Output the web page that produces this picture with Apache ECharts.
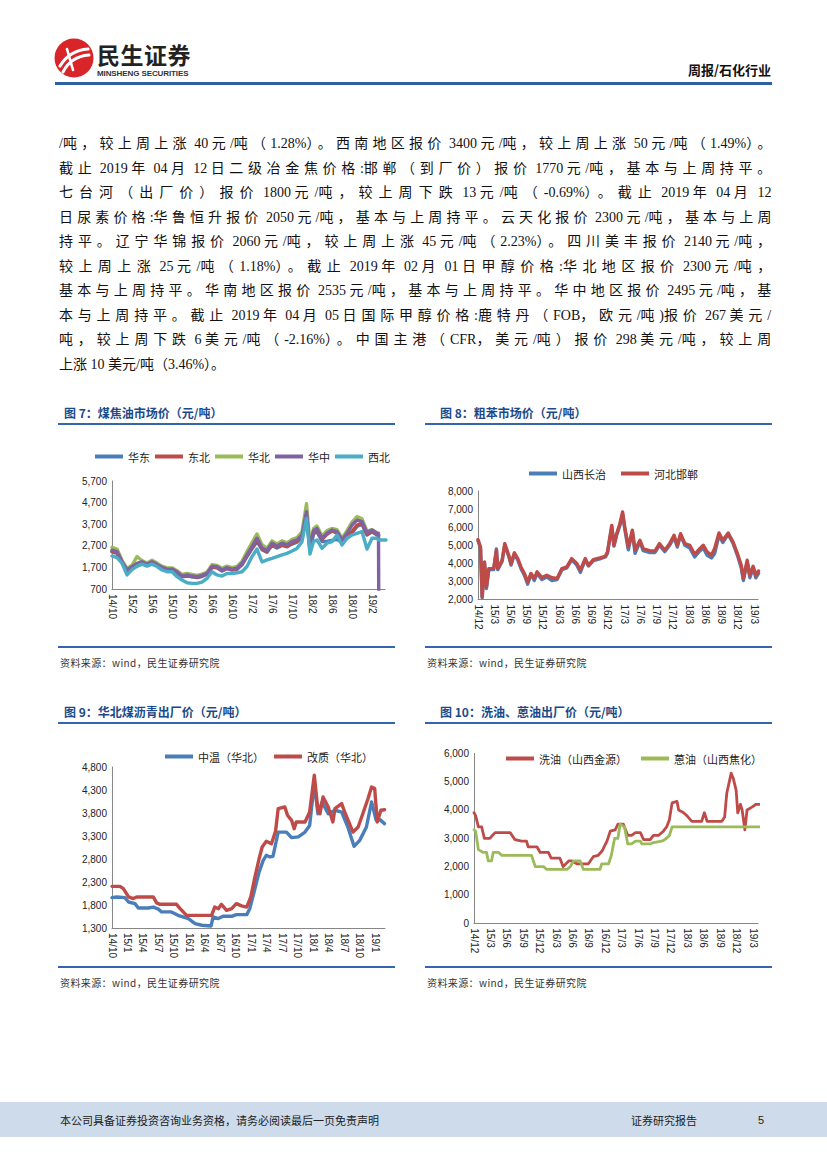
<!DOCTYPE html>
<html><head><meta charset="utf-8">
<script src="https://cdn.jsdelivr.net/npm/echarts@6/dist/echarts.min.js"></script>
<style>
html,body{margin:0;padding:0;background:#fff}
body{width:827px;height:1169px;position:relative;overflow:hidden;font-family:"Noto Sans CJK SC",sans-serif;color:#000}
.abs{position:absolute}
.para{position:absolute;left:59px;top:132px;width:712px;font-family:"Liberation Serif","Noto Sans CJK SC",serif;font-size:14px;line-height:24.5px;color:#111}
.para div{height:24.5px;white-space:nowrap;overflow:visible}
.ttl{position:absolute;font-size:12px;font-weight:bold;color:#1b4a8a;white-space:nowrap;line-height:14px}
.rule{position:absolute;height:2px;background:#3266ad}
.src{position:absolute;font-size:10px;color:#333;white-space:nowrap;line-height:12px;letter-spacing:0.4px}
.chart{position:absolute}
</style></head>
<body>
<!-- header -->
<svg class="abs" style="left:53px;top:37px" width="42" height="42" viewBox="0 0 42 42">
  <circle cx="21" cy="21" r="19.5" fill="#d9252a"/>
  <path d="M7 29 C13 19 22 13 35 12" stroke="#fff" stroke-width="3.2" fill="none" stroke-linecap="round"/>
  <path d="M10 35 C15 25 23 19 36 18" stroke="#fff" stroke-width="3" fill="none" stroke-linecap="round"/>
  <path d="M14 12 L20 33" stroke="#fff" stroke-width="2.6" fill="none" stroke-linecap="round"/>
</svg>
<div class="abs" style="left:97px;top:42px;font-size:23px;font-weight:bold;color:#222;letter-spacing:0.5px;line-height:24px">民生证券</div>
<div class="abs" style="left:97px;top:69px;font-size:8px;font-weight:bold;color:#333;font-family:'Liberation Sans';line-height:9px;letter-spacing:-0.1px">MINSHENG SECURITIES</div>
<div class="abs" style="left:650px;width:121px;text-align:right;top:62px;font-size:13px;font-weight:bold;color:#111;line-height:16px">周报/石化行业</div>
<div class="abs" style="left:55px;top:82px;width:717px;height:3px;background:#2f5fa3"></div>

<!-- body text -->
<div class="para" id="para">
<div class="j">/吨，较上周上涨 40 元/吨（1.28%）。西南地区报价 3400 元/吨，较上周上涨 50 元/吨（1.49%）。</div>
<div class="j">截止 2019 年 04 月 12 日二级冶金焦价格:邯郸（到厂价）报价 1770 元/吨，基本与上周持平。</div>
<div class="j">七台河（出厂价）报价 1800 元/吨，较上周下跌 13 元/吨（-0.69%）。截止 2019 年 04 月 12</div>
<div class="j">日尿素价格:华鲁恒升报价 2050 元/吨，基本与上周持平。云天化报价 2300 元/吨，基本与上周</div>
<div class="j">持平。辽宁华锦报价 2060 元/吨，较上周上涨 45 元/吨（2.23%）。四川美丰报价 2140 元/吨，</div>
<div class="j">较上周上涨 25 元/吨（1.18%）。截止 2019 年 02 月 01 日甲醇价格:华北地区报价 2300 元/吨，</div>
<div class="j">基本与上周持平。华南地区报价 2535 元/吨，基本与上周持平。华中地区报价 2495 元/吨，基</div>
<div class="j">本与上周持平。截止 2019 年 04 月 05 日国际甲醇价格:鹿特丹（FOB，欧元/吨)报价 267 美元/</div>
<div class="j">吨，较上周下跌 6 美元/吨（-2.16%）。中国主港（CFR，美元/吨）报价 298 美元/吨，较上周</div>
<div class="last">上涨 10 美元/吨（3.46%）。</div>
</div>

<!-- figure frames -->
<div class="ttl" style="left:64px;top:406px">图 7：煤焦油市场价（元/吨）</div>
<div class="rule" style="left:58px;top:423px;width:337px"></div>
<div class="ttl" style="left:440px;top:406px">图 8：粗苯市场价（元/吨）</div>
<div class="rule" style="left:425px;top:423px;width:347px"></div>
<div class="rule" style="left:58px;top:646px;width:337px"></div>
<div class="rule" style="left:425px;top:646px;width:347px"></div>
<div class="src" style="left:60px;top:657px">资料来源：wind，民生证券研究院</div>
<div class="src" style="left:427px;top:657px">资料来源：wind，民生证券研究院</div>

<div class="ttl" style="left:64px;top:705px">图 9：华北煤沥青出厂价（元/吨）</div>
<div class="rule" style="left:58px;top:722px;width:337px"></div>
<div class="ttl" style="left:440px;top:705px">图 10：洗油、蒽油出厂价（元/吨）</div>
<div class="rule" style="left:425px;top:722px;width:347px"></div>
<div class="rule" style="left:58px;top:966px;width:337px"></div>
<div class="rule" style="left:425px;top:966px;width:347px"></div>
<div class="src" style="left:60px;top:977px">资料来源：wind，民生证券研究院</div>
<div class="src" style="left:427px;top:977px">资料来源：wind，民生证券研究院</div>

<div id="c7" class="chart" style="left:58px;top:430px;width:340px;height:214px"></div>
<div id="c8" class="chart" style="left:425px;top:430px;width:347px;height:214px"></div>
<div id="c9" class="chart" style="left:58px;top:730px;width:340px;height:234px"></div>
<div id="c10" class="chart" style="left:425px;top:730px;width:347px;height:234px"></div>

<!-- footer -->
<div class="abs" style="left:0;top:1102px;width:827px;height:35px;background:#cddbea"></div>
<div class="abs" style="left:60px;top:1113px;font-size:11px;color:#222;line-height:14px">本公司具备证券投资咨询业务资格，请务必阅读最后一页免责声明</div>
<div class="abs" style="left:631px;top:1113px;font-size:11px;color:#222;line-height:14px">证券研究报告</div>
<div class="abs" style="left:758px;top:1113px;font-size:11px;color:#222;line-height:14px;font-family:'Liberation Sans'">5</div>

<script>
// stretch each body line to the full column width, adding the extra room after CJK characters only
(function(){
  const W = 712;
  const wide = /[\u3000-\u9fff\uff00-\uffef]/;
  document.querySelectorAll('#para div.j').forEach(d => {
    const txt = d.textContent; d.textContent = '';
    const holder = document.createElement('span'); d.appendChild(holder);
    const spread = [];
    let run = '';
    const flush = () => { if (run) { holder.appendChild(document.createTextNode(run)); run = ''; } };
    for (let i = 0; i < txt.length; i++) {
      const ch = txt[i];
      if (wide.test(ch) && i < txt.length - 1) { flush(); const s = document.createElement('span'); s.textContent = ch; holder.appendChild(s); spread.push(s); }
      else run += ch;
    }
    flush();
    const w = holder.getBoundingClientRect().width;
    if (spread.length && w < W) { const ls = (W - w) / spread.length; spread.forEach(s => s.style.letterSpacing = ls + 'px'); }
  });
})();

// ---------- Figure 7: 煤焦油市场价 (x = months after 2014-10) ----------
const t7 = [0,1,2,3,4,5,6,7,8,9,10,11,12,13,14,15,16,17,18,19,20,21,22,23,24,25,26,27,28,29,30,31,32,33,34,35,36,37,38,38.9,39.6,40.3,41,42,43,44,45,46,47,48,49,50,51,52,53,53.3,53.35,54,54.8];
const huadong7 = [2420,2350,1900,1540,1680,1830,1900,1790,1900,1790,1650,1570,1570,1450,1260,1300,1260,1230,1280,1380,1700,1680,1530,1640,1580,1610,1820,2200,2560,2900,2520,2400,2720,2600,2720,2650,2780,2870,3100,4100,2450,3250,3350,2900,2900,2950,3000,2850,3150,3300,3600,3700,3200,3350,3200,3180,null,null,null];
const dongbei7 = [2450,2380,1930,1560,1700,1860,1930,1810,1920,1810,1670,1590,1590,1470,1280,1320,1280,1250,1300,1400,1720,1700,1550,1660,1600,1630,1850,2230,2600,2950,2550,2430,2760,2640,2760,2690,2820,2900,3150,4150,2500,3350,3450,3000,3230,3380,3300,2930,3200,3360,3660,3740,3220,3380,3230,3200,null,null,null];
const huabei7 = [2630,2550,2030,1650,1800,2200,2020,1900,2030,1900,1760,1680,1680,1550,1370,1420,1370,1330,1390,1480,1830,1790,1660,1760,1690,1740,1980,2430,2850,3250,2750,2580,2930,2790,2930,2840,3000,3080,3350,4650,2750,3500,3620,3150,3400,3500,3450,3050,3400,3800,4050,3950,3380,3450,3300,3300,null,null,null];
const huazhong7 = [2500,2430,1970,1580,1730,1890,1960,1840,1960,1840,1700,1620,1620,1500,1300,1350,1300,1270,1330,1420,1760,1730,1580,1690,1620,1660,1890,2280,2660,3050,2600,2480,2820,2690,2820,2740,2890,2970,3200,4280,2550,3400,3500,3050,3280,3430,3360,2970,3280,3660,3890,3820,3300,3430,3280,3250,0,null,null];
const xibei7 = [2230,2150,1900,1350,1600,1750,1850,1760,1850,1740,1580,1500,1500,1270,1115,990,960,960,1020,1190,1500,1350,1300,1420,1420,1450,1500,1740,2200,2550,1950,2050,2120,2200,2280,2350,2460,2580,2890,3970,2320,2900,2970,2580,2820,2890,3200,2740,3050,3200,3280,3360,2550,3050,3050,2970,2970,2970,2970];
const names7 = ['华东','东北','华北','华中','西北'];

// ---------- Figure 8: 粗苯市场价 (x = months after 2014-12) ----------
const t8 = [0,0.46,0.77,1.2,1.56,2.0,2.9,3.4,3.65,4.45,4.94,5.67,6.1,6.72,7.33,7.94,8.56,9.17,9.78,10.4,10.9,11.8,12.7,13.65,14.6,15.5,16.4,17.3,18.25,18.9,19.8,20.4,21.3,22.5,23.5,23.9,24.7,25.1,25.6,26.2,26.7,27.1,27.75,28.5,29.0,29.9,30.5,31.75,32.7,33.5,34.5,35.4,36.2,36.8,37.4,38.2,39.1,40.0,41.0,41.6,42.3,43.1,43.7,44.5,45.2,46.2,47.1,48.0,48.6,49.0,49.7,50.2,50.8,51.3,51.8];
const changzhi8 = [5250,4850,2100,4000,2600,3650,3650,4800,3650,4100,5000,4400,3900,4500,4200,3700,3350,2850,3400,3050,3450,3100,3250,3050,3100,3650,3750,4200,3900,3500,4200,3850,4150,4250,4350,4550,6000,4950,5550,6100,6700,5900,4750,5750,4550,5200,4700,4600,4600,5000,4650,5000,5450,4900,5550,5000,4850,4350,4700,4850,4450,4300,4550,5550,5150,5600,5100,4350,3750,3050,4050,3200,3750,3200,3450];
const handan8 = [5310,4900,2150,4080,2700,3710,3710,4720,3710,4170,5090,4450,3990,4580,4260,3800,3440,2980,3440,3160,3530,3210,3340,3200,3160,3710,3800,4260,3990,3620,4260,3900,4210,4300,4390,4630,6100,5000,5640,6190,6840,6010,4910,5830,4720,5270,4820,4690,4690,5090,4720,5090,5550,5000,5640,5090,5000,4500,4820,5000,4630,4450,4820,5680,5270,5680,5180,4450,3900,3160,4170,3340,3840,3340,3580];
const names8 = ['山西长治','河北邯郸'];

// ---------- Figure 9: 华北煤沥青出厂价 (x = months after 2014-10) ----------
const t9zw = [0,0.9,2.5,3.2,4.45,5.1,7.0,8.0,9.0,9.6,11.5,12.8,14.8,16.1,17.4,19.2,19.6,20.6,21.5,23.2,24.1,26.1,26.7,27.7,28.5,29.3,29.9,30.6,31.2,32.2,33.8,34.8,36.1,37.4,38.3,39.2,39.9,40.7,41.9,43.2,44.5,45.7,46.9,48.0,49.3,50.3,51.2,51.9,52.8];
const zhongwen9 = [1960,1975,1960,1865,1830,1735,1735,1755,1710,1650,1650,1575,1505,1395,1360,1345,1540,1505,1555,1555,1590,1590,1720,2155,2515,2770,2880,2845,2860,3385,3385,3265,3280,3385,3530,4450,3785,4040,3785,3860,3820,3495,3075,3205,3495,4040,3640,3655,3570];
const t9gz = [0,1.55,2.2,3.2,4.1,4.8,8.0,8.65,9.3,12.5,13.2,14.45,19.3,19.9,20.6,21.2,22.2,23.2,24.1,25.1,26.1,26.9,27.7,28.5,29.1,29.9,30.9,31.7,32.2,33.5,34.0,34.8,35.3,35.7,37.4,38.3,39.2,39.9,40.3,40.9,41.9,42.8,43.2,44.5,45.1,46.7,47.7,48.6,49.6,50.3,50.9,51.4,52.1,52.8];
const gaizhi9 = [2205,2205,2155,1975,1940,1975,1975,1845,1815,1815,1720,1575,1575,1755,1720,1815,1685,1720,1830,1780,1755,1975,2410,2805,3060,3185,3130,3410,3895,3930,3750,3640,3460,3605,3605,3820,4620,3860,3785,4150,3930,3605,3895,4005,3820,3385,3495,3785,4110,4365,4330,3605,3860,3870];
const names9 = ['中温（华北）','改质（华北）'];

// ---------- Figure 10: 洗油、蒽油出厂价 (x = months after 2014-12) ----------
const t10xy = [0,0.3,0.8,1.4,1.9,2.9,3.85,6.6,7.5,8.7,9.6,9.9,11.5,12.1,13.6,14.1,15.7,16.3,17.3,17.9,18.8,20.9,21.8,22.7,23.4,24.3,24.9,25.8,26.3,27.3,28.1,28.8,29.5,30.4,31.0,32.2,32.8,33.7,34.6,35.2,35.7,36.2,37.1,37.4,37.9,38.3,38.9,39.8,41.6,42.1,42.6,45.3,45.8,46.2,47.0,47.4,47.9,48.2,48.7,49.0,49.5,49.9,50.8,51.5,52.1];
const xiyou10 = [3900,3800,3400,3400,3000,3000,3200,3200,2950,2900,2900,2700,2700,2500,2500,2300,2300,2000,2200,2200,2100,2100,2350,2400,2550,2900,3250,3300,3500,3500,3100,3100,3200,3200,2950,2950,3100,3100,3250,3400,3650,4250,4300,4000,3950,3900,3800,3600,3600,3900,3600,3600,3750,4600,5300,5100,4700,3900,4200,4000,3300,4000,4100,4200,4200];
const t10ay = [0,0.3,0.8,1.7,2.3,2.6,3.2,3.5,4.45,5.1,10.5,11.2,12.7,13.3,17.0,17.6,18.2,19.4,20.0,23.0,23.35,24.6,25.1,25.7,26.3,26.7,27.5,28.1,28.8,29.5,30.4,30.7,32.2,32.8,34.3,34.8,35.2,35.7,36.2,52.3];
const anyou10 = [3300,3250,2600,2500,2500,2200,2200,2500,2500,2400,2400,2000,2000,1900,1900,2000,2200,2200,1900,1900,2100,2100,2400,3000,3000,3500,3400,2800,2800,2900,2900,2800,2800,2850,2900,2950,3000,3100,3400,3400];
const names10 = ['洗油（山西金源）','蒽油（山西焦化）'];

// ---------- helpers ----------
const C = {blue:'#4a7ebb', red:'#be4b48', green:'#9bbb59', purple:'#7f62a1', cyan:'#4bacc6'};
const thousands = v => String(v).replace(/\B(?=(\d{3})+(?!\d))/g, ',');
function monthFmt(y0, m0){
  return v => { const k = (m0 - 1) + Math.round(v); return String((y0 + Math.floor(k/12)) % 100).padStart(2,'0') + '/' + (k % 12 + 1); };
}
function pairs(t, v){ const out = []; for (let i = 0; i < t.length; i++) if (v[i] !== null && v[i] !== undefined) out.push([t[i], v[i]]); return out; }
function lineChart(id, o){
  const ch = echarts.init(document.getElementById(id), null, {renderer:'svg'});
  ch.setOption({
    animation:false,
    textStyle:{fontFamily:'Noto Sans CJK SC'},
    legend:{left:o.legendLeft, top:o.legendTop, icon:'rect', itemWidth:28, itemHeight:4, itemGap:o.legendGap,
      textStyle:{fontSize:11, color:'#222', fontFamily:'Noto Sans CJK SC', padding:[0,0,0,0]}, data:o.series.map(s => s.name)},
    grid:o.grid,
    xAxis:{type:'value', min:0, max:o.xMax, interval:o.xInterval,
      axisLine:{lineStyle:{color:'#868686', width:1}}, axisTick:{show:false}, splitLine:{show:false},
      axisLabel:{rotate:-90, margin:5, fontSize:10, color:'#222', fontFamily:'Liberation Sans', showMaxLabel:false, formatter:o.xFmt}},
    yAxis:{type:'value', min:o.yMin, max:o.yMax, interval:o.yInterval,
      axisLine:{show:true, lineStyle:{color:'#868686', width:1}}, axisTick:{show:false}, splitLine:{show:false},
      axisLabel:{margin:5, fontSize:10, color:'#222', fontFamily:'Liberation Sans', formatter:thousands}},
    series:o.series.map(s => ({type:'line', name:s.name, data:pairs(s.t, s.v), showSymbol:false, symbol:'none', clip:true,
      lineStyle:{width:s.w || 3.4, color:s.color, join:'round', cap:'round'}, itemStyle:{color:s.color}}))
  });
}

lineChart('c7', {
  grid:{left:54, top:51, width:273, height:108},
  legendLeft:32, legendTop:16, legendGap:5,
  xMax:54.6, xInterval:4, xFmt:monthFmt(2014,10),
  yMin:700, yMax:5700, yInterval:1000,
  series:[
    {name:names7[0], t:t7, v:huadong7, color:C.blue},
    {name:names7[1], t:t7, v:dongbei7, color:C.red},
    {name:names7[2], t:t7, v:huabei7, color:C.green},
    {name:names7[3], t:t7, v:huazhong7, color:C.purple},
    {name:names7[4], t:t7, v:xibei7, color:C.cyan}
  ]
});
lineChart('c8', {
  grid:{left:53, top:61, width:280, height:108.5},
  legendLeft:99, legendTop:33, legendGap:15,
  xMax:51.7, xInterval:3, xFmt:monthFmt(2014,12),
  yMin:2000, yMax:8000, yInterval:1000,
  series:[
    {name:names8[0], t:t8, v:changzhi8, color:C.blue},
    {name:names8[1], t:t8, v:handan8, color:C.red}
  ]
});
lineChart('c9', {
  grid:{left:54, top:37, width:273, height:161},
  legendLeft:102, legendTop:16, legendGap:10,
  xMax:52.9, xInterval:3, xFmt:monthFmt(2014,10),
  yMin:1300, yMax:4800, yInterval:500,
  series:[
    {name:names9[0], t:t9zw, v:zhongwen9, color:C.blue},
    {name:names9[1], t:t9gz, v:gaizhi9, color:C.red}
  ]
});
lineChart('c10', {
  grid:{left:49, top:23.3, width:284, height:170},
  legendLeft:76, legendTop:18, legendGap:14,
  xMax:51.9, xInterval:3, xFmt:monthFmt(2014,12),
  yMin:0, yMax:6000, yInterval:1000,
  series:[
    {name:names10[0], t:t10xy, v:xiyou10, color:C.red, w:2.8},
    {name:names10[1], t:t10ay, v:anyou10, color:C.green, w:2.8}
  ]
});
</script>
</body></html>
